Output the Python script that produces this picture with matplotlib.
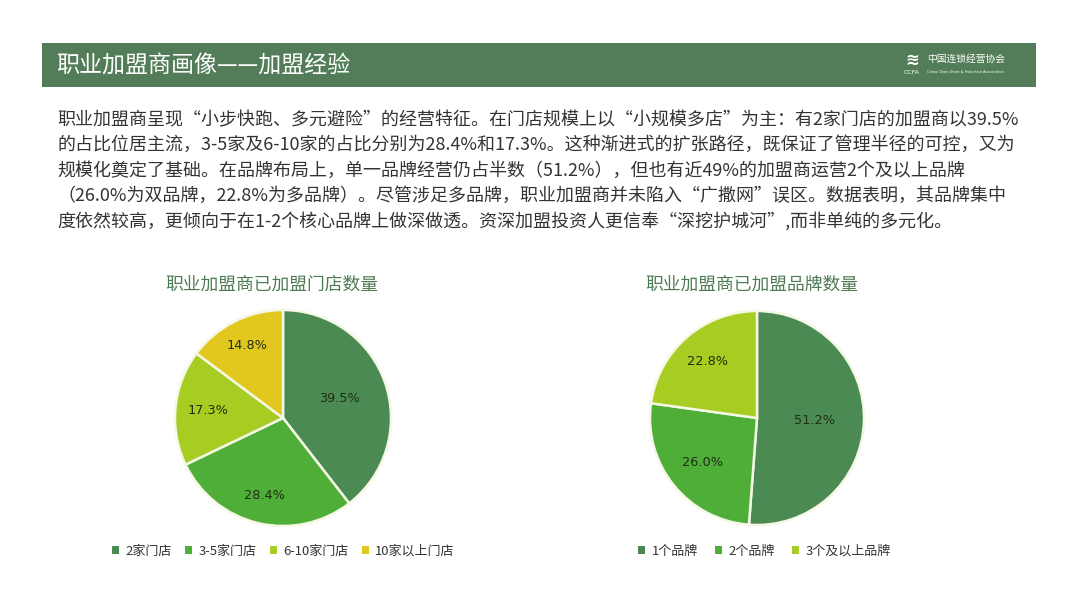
import matplotlib
matplotlib.use("Agg")
import matplotlib.pyplot as plt
from matplotlib.patches import Rectangle
import numpy as np

plt.rcParams['font.family'] = ['Noto Sans CJK SC', 'DejaVu Sans']

# ---- data ----
header_title = "职业加盟商画像——加盟经验"
paragraph_lines = [
    "职业加盟商呈现“小步快跑、多元避险”的经营特征。在门店规模上以“小规模多店”为主：有2家门店的加盟商以39.5%",
    "的占比位居主流，3-5家及6-10家的占比分别为28.4%和17.3%。这种渐进式的扩张路径，既保证了管理半径的可控，又为",
    "规模化奠定了基础。在品牌布局上，单一品牌经营仍占半数（51.2%），但也有近49%的加盟商运营2个及以上品牌",
    "（26.0%为双品牌，22.8%为多品牌）。尽管涉足多品牌，职业加盟商并未陷入“广撒网”误区。数据表明，其品牌集中",
    "度依然较高，更倾向于在1-2个核心品牌上做深做透。资深加盟投资人更信奉“深挖护城河”,而非单纯的多元化。",
]

store_title = "职业加盟商已加盟门店数量"
store_categories = ["2家门店", "3-5家门店", "6-10家门店", "10家以上门店"]
store_values = [39.5, 28.4, 17.3, 14.8]

brand_title = "职业加盟商已加盟品牌数量"
brand_categories = ["1个品牌", "2个品牌", "3个及以上品牌"]
brand_values = [51.2, 26.0, 22.8]

store_colors = ["#4C8A54", "#4FAE38", "#A7CC22", "#E2C81E"]
brand_colors = ["#4C8A54", "#4FAE38", "#A7CC22"]
store_label_dist = [0.55, 0.74, 0.70, 0.75]
brand_label_dist = [0.54, 0.66, 0.70]

W, H = 1080, 608
fig = plt.figure(figsize=(W / 100, H / 100), dpi=100)
fig.patch.set_facecolor("white")


def fx(px):
    return px / W


def fy(py):
    return 1 - py / H


# header bar
fig.patches.append(Rectangle((fx(42), fy(87)), fx(1036) - fx(42), fy(43) - fy(87),
                             transform=fig.transFigure, facecolor="#527D58",
                             edgecolor="none", zorder=0))
fig.text(fx(56), fy(65), header_title, color="white", fontsize=16.6,
         va="center", ha="left")
# logo text
fig.text(fx(912), fy(60), "≋", color="white", fontsize=12, va="center",
         ha="center", family="DejaVu Sans", fontweight="bold")
fig.text(fx(912), fy(72), "CCFA", color="white", fontsize=4.5, va="center",
         ha="center", family="DejaVu Sans")
fig.text(fx(927), fy(59), "中国连锁经营协会", color="white", fontsize=7,
         va="center", ha="left")
fig.text(fx(927), fy(72), "China Chain Store & Franchise Association",
         color="white", fontsize=2.6, va="center", ha="left", family="DejaVu Sans")

# paragraph
for i, line in enumerate(paragraph_lines):
    fig.text(fx(57), fy(120 + i * 25.2), line, color="#333333", fontsize=12.95,
             va="center", ha="left")


def draw_pie(cx, cy, r, title, title_x, cats, vals, colors, dists, legend_x, colsp):
    ax = fig.add_axes([fx(cx - r), fy(cy + r), 2 * r / W, 2 * r / H])
    wedges, _ = ax.pie(vals, colors=colors, startangle=90, counterclock=False,
                       wedgeprops=dict(edgecolor="#F4F8E4", linewidth=1.8))
    ax.set_aspect("equal")
    ax.set_xlim(-1, 1)
    ax.set_ylim(-1, 1)
    for w, v, d in zip(wedges, vals, dists):
        ang = np.deg2rad((w.theta1 + w.theta2) / 2)
        ax.text(d * np.cos(ang), d * np.sin(ang), f"{v:.1f}%",
                ha="center", va="center", fontsize=9.3, color="#1F2E14",
                family="DejaVu Sans")
    fig.text(fx(title_x), fy(285), title, ha="center", va="center",
             fontsize=12.8, color="#4E7A55")
    handles = [Rectangle((0, 0), 1, 1, facecolor=c, edgecolor="none") for c in colors]
    fig.legend(handles, cats, loc="center left",
               bbox_to_anchor=(fx(legend_x), fy(551)), ncol=len(cats),
               frameon=False, fontsize=9.4, handlelength=0.55,
               handleheight=0.55, handletextpad=0.5, columnspacing=colsp,
               labelcolor="#333333")
    return ax


draw_pie(283, 418, 108, store_title, 272, store_categories, store_values,
         store_colors, store_label_dist, 100, 1.0)
draw_pie(757, 418, 107, brand_title, 752, brand_categories, brand_values,
         brand_colors, brand_label_dist, 626, 1.3)

fig.savefig("out.png", dpi=100, facecolor="white")
